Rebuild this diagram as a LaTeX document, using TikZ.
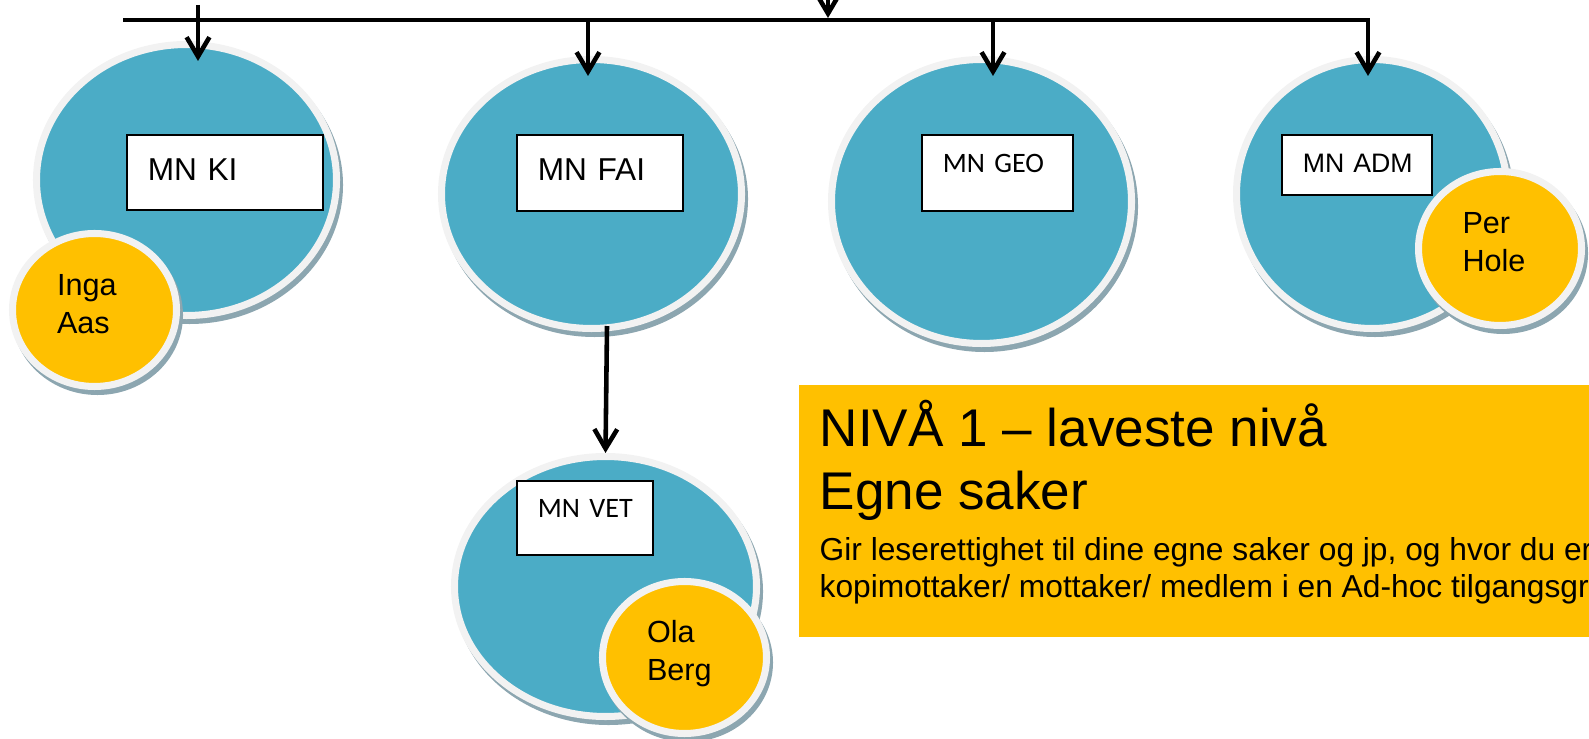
\documentclass[tikz,border=0pt]{standalone}
\usepackage{fontspec}
\setmainfont{Liberation Sans}
\newfontfamily\calibrifont{Carlito}
\usetikzlibrary{arrows.meta,shapes.geometric,shadows}

\definecolor{aquablue}{RGB}{75,172,198}
\definecolor{namegold}{RGB}{255,192,0}
\definecolor{rimgrey}{RGB}{242,242,242}
\definecolor{shadowgrey}{RGB}{140,166,176}

\tikzset{
  unit/.style={ellipse, fill=aquablue, draw=rimgrey, line width=2pt,
    drop shadow={shadow xshift=0.3mm, shadow yshift=-0.5mm, fill=shadowgrey, draw=shadowgrey, opacity=1}},
  person/.style={unit, fill=namegold, inner sep=0pt, align=left, text width=7.5mm,
    text height=0.5mm, text depth=3.4mm, font=\fontsize{8.7}{10.8}\selectfont},
  namebox/.style n args={3}{draw=black, fill=white, line width=0.5pt, anchor=north west,
    inner sep=0pt, align=left, text width=#1, text height=#2, text depth=#3,
    execute at begin node={\hspace*{2.1mm}}},
  infobox/.style={fill=namegold, anchor=north west, inner xsep=2.1mm, inner ysep=0pt,
    align=flush left, text width=100mm, text height=6.2mm, text depth=19mm},
  wire/.style={->, line width=1.3pt},
  drop/.style={wire, shorten >=-2mm},
}

\begin{document}
\begin{tikzpicture}[x=0.1mm, y=-0.1mm, >={Straight Barb[length=5.5pt,width=6.5pt]}]
  \useasboundingbox (0,0) rectangle (1589,739);
  \clip (0,0) rectangle (1589,739);

  % units
  \node [unit, minimum width=30mm, minimum height=27.1mm] (ki) at (186.5,180) {};
  \node [unit, minimum width=30mm, minimum height=26.9mm] (fai) at (591.5,194) {};
  \node [unit, minimum width=30mm, minimum height=28.4mm] (geo) at (981.5,201.5) {};
  \node [unit, minimum width=27.1mm, minimum height=26.9mm] (adm) at (1372,194) {};
  \node [unit, minimum width=30.2mm, minimum height=26mm] (vet) at (605.5,586.5) {};

  % people
  \node [person, minimum width=16.4mm, minimum height=15.3mm] (inga) at (94.5,310) {Inga\\Aas};
  \node [person, minimum width=16.3mm, minimum height=15.4mm] (per) at (1500,248.5) {Per\\Hole};
  \node [person, minimum width=16.4mm, minimum height=15.2mm] (ola) at (684.5,657.5) {Ola\\Berg};

  % name labels
  \node [namebox={19.6mm}{4.6mm}{2.9mm}, font=\fontsize{9}{11}\selectfont] (kilabel) at (126,134) {MN KI};
  \node [namebox={16.6mm}{4.6mm}{3mm}, font=\fontsize{9}{11}\selectfont] (failabel) at (516,134) {MN FAI};
  \node [namebox={15.1mm}{3.8mm}{3.8mm}, font=\calibrifont\fontsize{8}{10}\selectfont] (geolabel) at (921,134) {MN GEO};
  \node [namebox={15mm}{3.8mm}{2.2mm}, font=\fontsize{7.6}{9}\selectfont] (admlabel) at (1281,134) {MN ADM};
  \node [namebox={13.6mm}{3.7mm}{3.7mm}, font=\calibrifont\fontsize{8}{10}\selectfont] (vetlabel) at (516,480) {MN VET};

  % level text
  \node [infobox] (niva) at (798,384) {\fontsize{15.1}{17.9}\selectfont NIVÅ 1 – laveste nivå\\Egne saker\par
    \vspace{4pt}\fontsize{9.03}{10.5}\selectfont Gir leserettighet til dine egne saker og jp, og hvor du er\\
    kopimottaker/ mottaker/ medlem i en Ad-hoc tilgangsgruppe\par};

  % arrows
  \coordinate (feed) at (828,-40);
  \coordinate (tap) at (828,18);
  \coordinate (busleft) at (123,20);
  \coordinate (busright) at (1368,20);
  \coordinate (kiin) at (198,5);
  \coordinate (faiin) at (588,20);
  \coordinate (geoin) at (993,20);

  \draw [drop] (busleft) -- (busright) -- (busright |- adm.north);
  \draw [wire] (feed) -- (tap);
  \draw [drop] (kiin) -- (kiin |- ki.north);
  \draw [drop] (faiin) -- (faiin |- fai.north);
  \draw [drop] (geoin) -- (geoin |- geo.north);
  \draw [wire] ([xshift=1.55mm,yshift=0.6mm]fai.south) -- (vet.north);
\end{tikzpicture}
\end{document}
